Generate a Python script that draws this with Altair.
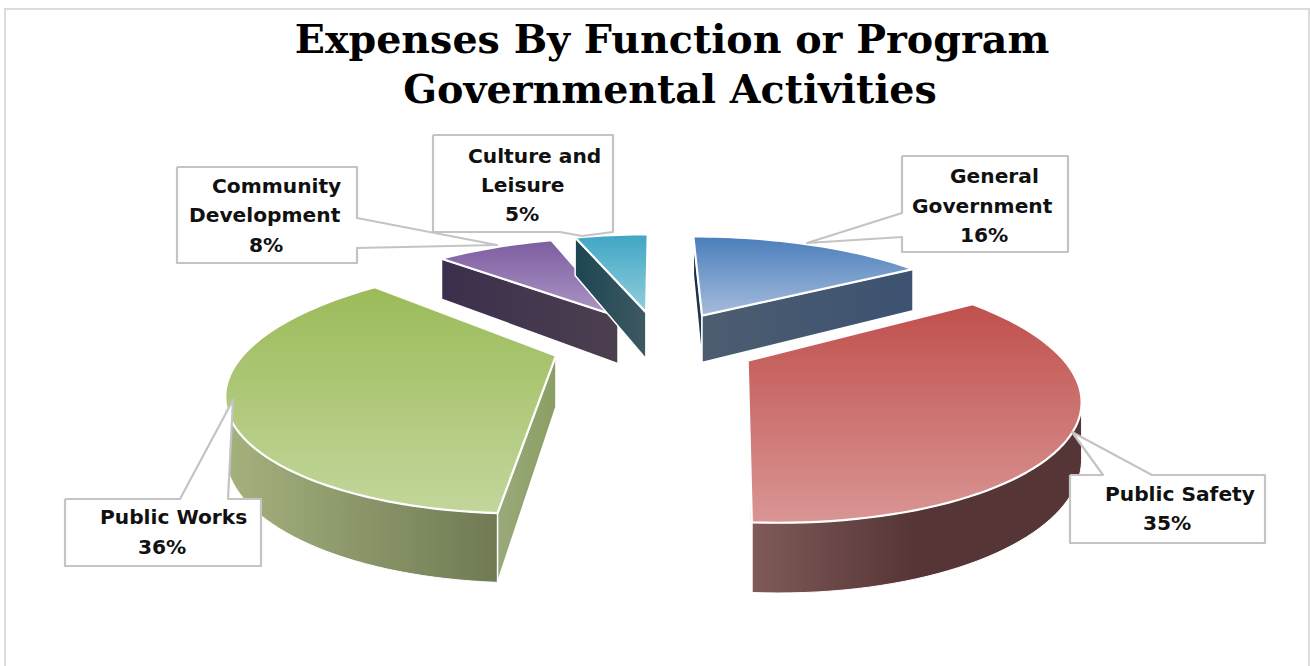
import math
import altair as alt
import pandas as pd

# Budget shares, clockwise from twelve o'clock
categories = ["General Government", "Public Safety", "Public Works", "Community Development", "Culture and Leisure"]
shares = [16, 35, 36, 8, 5]

# Face colours: top face (back, front), wall stops left to right
top_colors = [("#4a7ebb", "#a5bcdc"), ("#c0504d", "#d99694"), ("#9bbb59", "#c3d69b"), ("#7d5d9f", "#ac96c6"), ("#3fa6c4", "#93cddd")]
rim_colors = [("#4a5e76", "#3e5470"), ("#7f5a58", "#553535", "#553535"), ("#a5b27d", "#6f7a54"), ("#3c2f4d", "#4b3f4f"), ("#1c4652", "#3e5962")]
start_cut_colors = [("#16263c", "#2a3f5c"), ("#553535", "#553535"), ("#9aa97a", "#8a9f63"), ("#3c2f4d", "#4b3f4f"), ("#1c4652", "#3e5962")]
end_cut_colors = [("#4d5d71", "#3c5270"), ("#7f5a58", "#7f5a58"), ("#6f7a54", "#6f7a54"), ("#3c2f4d", "#4b3f4f"), ("#3e5962", "#3e5962")]

title_lines = ["Expenses By Function or Program", "Governmental Activities"]

# Callout outlines
callout_outlines = [
    [(902, 156), (1068, 156), (1068, 252), (902, 252), (902, 237), (807, 243), (902, 213)],
    [(1070, 475), (1103, 475), (1072, 432), (1152, 475), (1265, 475), (1265, 543), (1070, 543)],
    [(65, 499), (180, 499), (233, 400), (228, 499), (261, 499), (261, 566), (65, 566)],
    [(177, 167), (357, 167), (357, 218), (497, 245), (357, 248), (357, 263), (177, 263)],
    [(433, 135), (613, 135), (613, 232), (582, 236), (560, 232), (433, 232)],
]
# Callout text rows: text, x of left edge, y of middle
callout_text = [
    ("General", 950, 177), ("Government", 912, 207), ("16%", 960, 236),
    ("Public Safety", 1105, 495), ("35%", 1143, 524),
    ("Public Works", 100, 518), ("36%", 138, 548),
    ("Community", 212, 187), ("Development", 189, 216), ("8%", 249, 246),
    ("Culture and", 468, 157), ("Leisure", 481, 186), ("5%", 505, 215),
]

# Camera used to tilt the exploded pie
CX, CY = 655, 343
RX, RY = 305, 111
PX, PY = 0.24, 0.25
EXPLODE_X = [0.34, 0.34, 0.34, 0.24, 0.20]
EXPLODE_Y = 0.30
DEPTH = 50

x_scale = alt.Scale(domain=[0, 1310], range=[0, 1310])
y_scale = alt.Scale(domain=[0, 666], range=[0, 666])


def project(wx, wy):
    sx = 1 / (1 - PX * wy)
    sy = 1 / (1 - PY * wy)
    return CX + RX * wx * sx, CY + RY * wy * sy, DEPTH * sy


def gradient(colors, vertical=False):
    stops = [alt.GradientStop(color=c, offset=i / (len(colors) - 1)) for i, c in enumerate(colors)]
    return alt.LinearGradient(
        gradient="linear", stops=stops,
        x1=0, y1=0, x2=0 if vertical else 1, y2=1 if vertical else 0,
    )


def polygon(points, fill, stroke="#ffffff", stroke_width=2.0):
    closed = list(points) + [points[0]]
    frame = pd.DataFrame({
        "px": [p[0] for p in closed],
        "py": [p[1] for p in closed],
        "i": list(range(len(closed))),
    })
    return alt.Chart(frame).mark_line(
        fill=fill, stroke=stroke, strokeWidth=stroke_width, strokeJoin="round", clip=False
    ).encode(
        x=alt.X("px:Q", scale=x_scale, axis=None),
        y=alt.Y("py:Q", scale=y_scale, axis=None),
        order="i:Q",
    )


def wall(edge):
    """Extrude a run of top-face points straight down."""
    upper = [(p[0], p[1]) for p in edge]
    lower = [(p[0], p[1] + p[2]) for p in reversed(edge)]
    return upper + lower


layers = []

# Page frame: left, top and a faint right border
frame_df = pd.DataFrame({"px": [5, 5, 1309, 1309], "py": [666, 9, 9, 666], "i": [0, 1, 2, 3]})
layers.append(alt.Chart(frame_df).mark_line(stroke="#dcdcdc", strokeWidth=2).encode(
    x=alt.X("px:Q", scale=x_scale, axis=None),
    y=alt.Y("py:Q", scale=y_scale, axis=None),
    order="i:Q",
))

cumulative = 0
total = sum(shares)
for k, share in enumerate(shares):
    a0 = 2 * math.pi * cumulative / total
    a1 = 2 * math.pi * (cumulative + share) / total
    mid = (a0 + a1) / 2
    cumulative += share
    ox, oy = EXPLODE_X[k] * math.sin(mid), -EXPLODE_Y * math.cos(mid)

    steps = max(6, int(share * 2))
    rim = []
    for j in range(steps + 1):
        a = a0 + (a1 - a0) * j / steps
        rim.append(project(ox + math.sin(a), oy - math.cos(a)))
    apex = project(ox, oy)

    # Outer wall: only the segments running right to left face the viewer
    visible = [j for j in range(steps) if rim[j + 1][0] < rim[j][0]]
    if visible:
        edge = rim[visible[0]: visible[-1] + 2]
        layers.append(polygon(wall(edge), gradient(rim_colors[k]), stroke_width=1.0))
    # Cut faces
    if rim[0][0] < apex[0]:
        layers.append(polygon(wall([apex, rim[0]]), gradient(start_cut_colors[k]), stroke_width=1.5))
    if apex[0] < rim[-1][0]:
        layers.append(polygon(wall([rim[-1], apex]), gradient(end_cut_colors[k]), stroke_width=1.5))
    # Top face
    top = [(apex[0], apex[1])] + [(p[0], p[1]) for p in rim]
    layers.append(polygon(top, gradient(top_colors[k], vertical=True), stroke_width=2.2))

for outline in callout_outlines:
    layers.append(polygon(outline, "#ffffff", stroke="#c4c4c4", stroke_width=2.2))

text_df = pd.DataFrame(callout_text, columns=["label", "px", "py"])
layers.append(alt.Chart(text_df).mark_text(
    font="DejaVu Sans", fontWeight="bold", fontSize=20.2, align="left", baseline="middle", color="#111111"
).encode(
    x=alt.X("px:Q", scale=x_scale, axis=None),
    y=alt.Y("py:Q", scale=y_scale, axis=None),
    text="label:N",
))

title_df = pd.DataFrame({"label": title_lines, "px": [672, 670], "py": [41, 91]})
layers.append(alt.Chart(title_df).mark_text(
    font="DejaVu Serif", fontWeight="bold", fontSize=39.6, align="center", baseline="middle", color="#000000"
).encode(
    x=alt.X("px:Q", scale=x_scale, axis=None),
    y=alt.Y("py:Q", scale=y_scale, axis=None),
    text="label:N",
))

chart = alt.layer(*layers).properties(
    width=1310, height=666, padding=0,
    autosize=alt.AutoSizeParams(type="none"),
    background="#ffffff",
).configure_view(stroke=None)

chart.save("out.html", embed_options={"renderer": "svg", "actions": False})
